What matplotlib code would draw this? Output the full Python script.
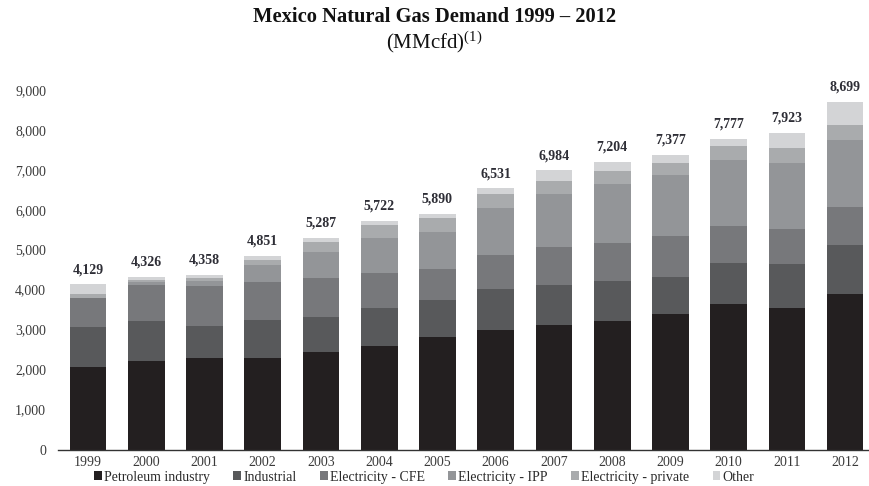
import matplotlib
matplotlib.use("Agg")
import matplotlib.pyplot as plt
from matplotlib.patches import Patch
import numpy as np

plt.rcParams["font.family"] = ["Liberation Serif", "DejaVu Serif"]
plt.rcParams["mathtext.fontset"] = "custom"
plt.rcParams["mathtext.rm"] = "Liberation Serif"
plt.rcParams["mathtext.it"] = "Liberation Serif:italic"
plt.rcParams["mathtext.bf"] = "Liberation Serif:bold"

years = ["1999", "2000", "2001", "2002", "2003", "2004", "2005",
         "2006", "2007", "2008", "2009", "2010", "2011", "2012"]

# Demand by sector, MMcfd
petroleum = [2060, 2220, 2285, 2285, 2440, 2587, 2805, 2987, 3120, 3210, 3390, 3630, 3540, 3888]
industrial = [1010, 1000, 805, 945, 880, 958, 932, 1025, 1000, 1015, 925, 1025, 1100, 1224]
elec_cfe = [710, 890, 1000, 960, 975, 860, 783, 850, 940, 950, 1035, 940, 880, 958]
elec_ipp = [20, 80, 120, 420, 635, 875, 910, 1193, 1325, 1475, 1515, 1645, 1640, 1667]
elec_private = [100, 60, 70, 125, 265, 332, 350, 332, 325, 330, 310, 350, 385, 393]
other = [229, 76, 78, 116, 92, 110, 110, 144, 274, 224, 202, 187, 378, 569]

totals = [4129, 4326, 4358, 4851, 5287, 5722, 5890, 6531, 6984, 7204, 7377, 7777, 7923, 8699]

series_names = ["Petroleum industry", "Industrial", "Electricity - CFE",
                "Electricity - IPP", "Electricity - private", "Other"]
series = [petroleum, industrial, elec_cfe, elec_ipp, elec_private, other]
colors = ["#231f20", "#58595b", "#77787b", "#939598", "#a9abad", "#d3d4d6"]

W, H = 869, 486
fig = plt.figure(figsize=(W / 100, H / 100), dpi=100)
ax = fig.add_axes([58 / W, 1 - 449.5 / H, (869 - 58) / W, (449.5 - 89.8) / H])

x = np.arange(len(years))
bottom = np.zeros(len(years))
for vals, col in zip(series, colors):
    ax.bar(x, vals, width=0.63, bottom=bottom, color=col, edgecolor="none")
    bottom += np.array(vals)

for xi, t in zip(x, totals):
    ax.annotate(f"{t:,}", (xi, t), xytext=(0, 6), textcoords="offset points",
                ha="center", va="bottom", fontsize=10, fontweight="bold",
                color="#2e2e36", annotation_clip=False)

ax.set_xlim(-0.515, 13.41)
ax.set_ylim(0, 9000)
ax.set_yticks(range(0, 9001, 1000))
ax.set_yticklabels([f"{v:,}" for v in range(0, 9001, 1000)])
ax.set_xticks(x)
ax.set_xticklabels(years)

for s in ["top", "right", "left"]:
    ax.spines[s].set_visible(False)
ax.spines["bottom"].set_color("#333333")
ax.spines["bottom"].set_linewidth(1.0)
ax.tick_params(axis="y", length=0, pad=8.5, labelsize=10, labelcolor="#3a3a3a")
ax.tick_params(axis="x", length=0, pad=5, labelsize=10, labelcolor="#3a3a3a")

fig.text(0.5, 1 - 22 / H, "Mexico Natural Gas Demand 1999 \u2013 2012",
         ha="center", va="baseline", fontsize=14.8, fontweight="bold", color="#111111")
fig.text(0.5, 1 - 48 / H, r"(MMcfd)$^{\mathrm{(1)}}$",
         ha="center", va="baseline", fontsize=15, color="#111111")

handles = [Patch(facecolor=c, edgecolor="none") for c in colors]
fig.legend(handles, series_names, loc="center", bbox_to_anchor=(424 / W, 1 - 477 / H),
           ncol=6, frameon=False, fontsize=10, handlelength=0.55, handleheight=0.55,
           handletextpad=0.15, columnspacing=1.7, labelcolor="#2a2a2a")

fig.savefig("out.png", dpi=100)
